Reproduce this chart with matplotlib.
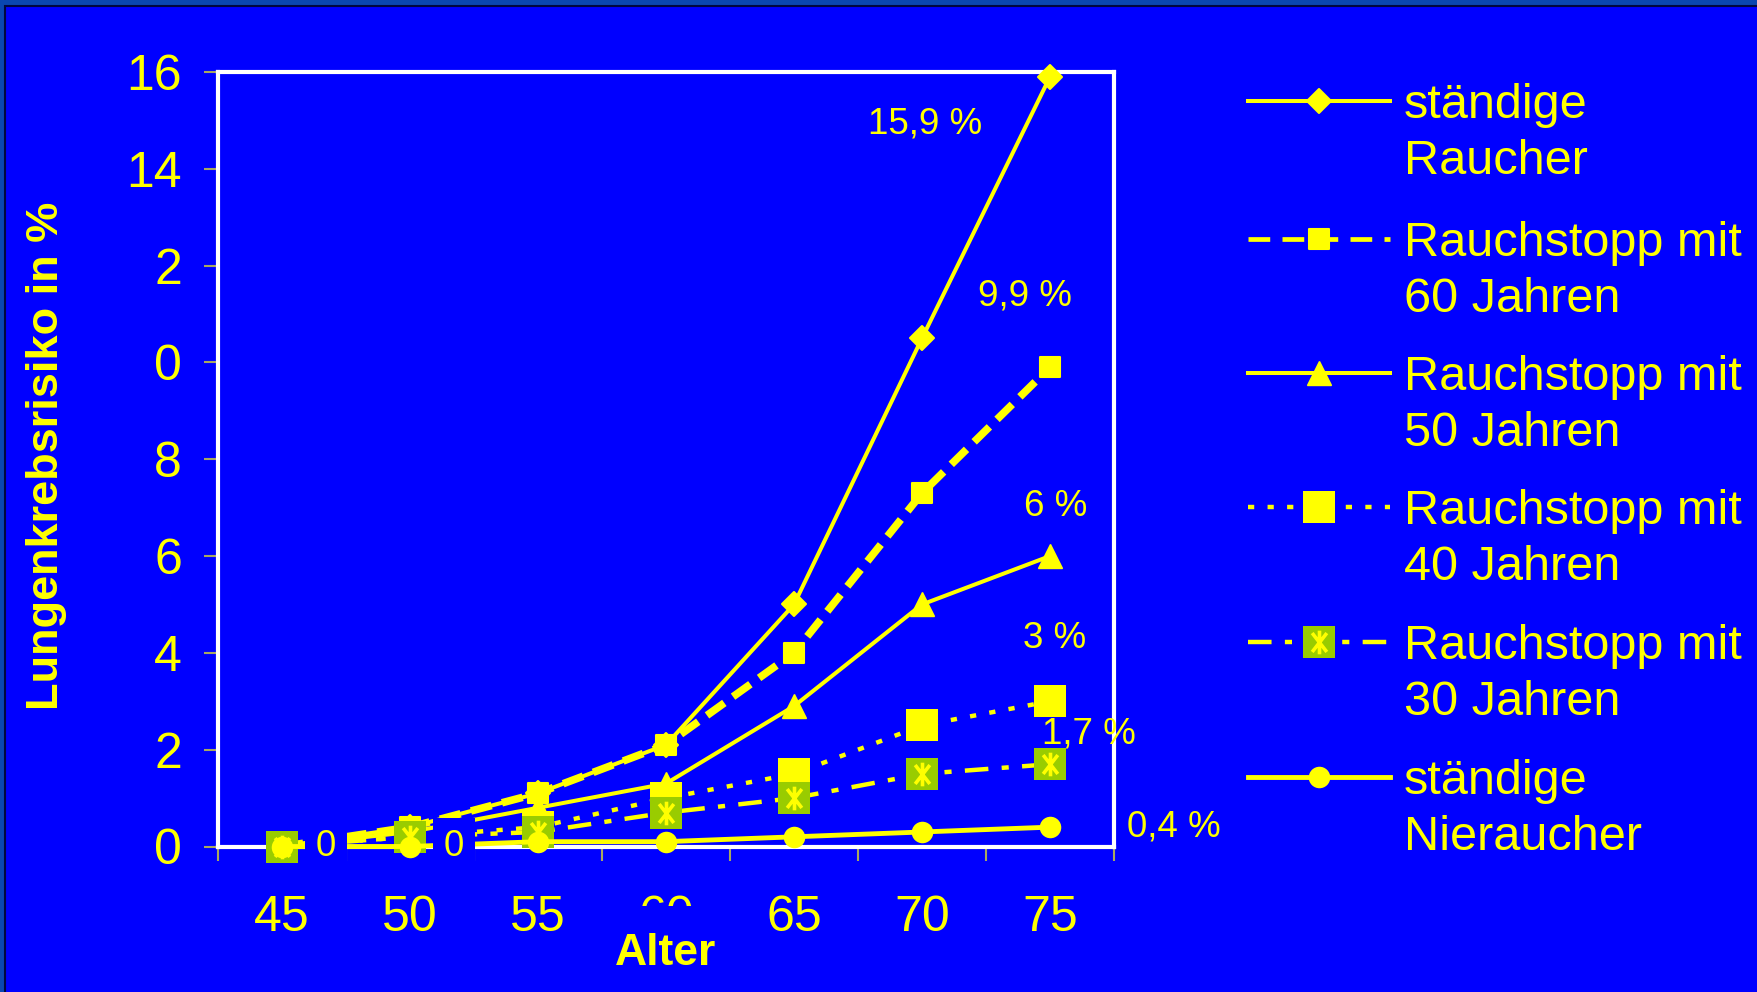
import matplotlib
matplotlib.use("Agg")
import matplotlib.pyplot as plt
from matplotlib.path import Path
from matplotlib.patches import Rectangle
from matplotlib.markers import MarkerStyle

# ---- data -------------------------------------------------------------
ages = ["45", "50", "55", "60", "65", "70", "75"]
ytick_values = [0, 2, 4, 6, 8, 10, 12, 14, 16]
ytick_labels = ["0", "2", "4", "6", "8", "0", "2", "14", "16"]

raucher = [0, 0.4, 1.1, 2.1, 5.0, 10.5, 15.9]
stopp_60 = [0, 0.4, 1.1, 2.1, 4.0, 7.3, 9.9]
stopp_50 = [0, 0.3, 0.8, 1.3, 2.9, 5.0, 6.0]
stopp_40 = [0, 0.2, 0.4, 1.0, 1.5, 2.5, 3.0]
stopp_30 = [0, 0.2, 0.3, 0.7, 1.0, 1.5, 1.7]
nieraucher = [0, 0, 0.1, 0.1, 0.2, 0.3, 0.4]

series_names = [
    ("ständige", "Raucher"),
    ("Rauchstopp mit", "60 Jahren"),
    ("Rauchstopp mit", "50 Jahren"),
    ("Rauchstopp mit", "40 Jahren"),
    ("Rauchstopp mit", "30 Jahren"),
    ("ständige", "Nieraucher"),
]
end_labels = ["15,9 %", "9,9 %", "6 %", "3 %", "1,7 %", "0,4 %"]
zero_labels = ["0", "0"]

# ---- style ------------------------------------------------------------
BLUE = "#0000FF"
YELLOW = "#FFFF00"
GREEN = "#99CC00"
TICKC = "#A8A860"

plt.rcParams["font.family"] = ["Liberation Sans", "DejaVu Sans"]

W, H = 1758, 992
fig = plt.figure(figsize=(W / 100, H / 100), dpi=100)
fig.patch.set_facecolor("#0A47B0")
fig.add_artist(Rectangle((5 / W, -0.02), 1.05, (H - 6) / H + 0.02,
                         transform=fig.transFigure, facecolor=BLUE,
                         edgecolor="#000840", lw=1.5, zorder=0))

ax = fig.add_axes([218 / W, 1 - 846.5 / H, (1114 - 218) / W, (846.5 - 72) / H])
ax.set_facecolor(BLUE)

asterisk = Path([(0, -1), (0, 1), (-0.62, -0.8), (0.62, 0.8), (-0.62, 0.8), (0.62, -0.8)],
                [Path.MOVETO, Path.LINETO] * 3)

styles = [
    dict(ls="-", lw=2.9, marker=MarkerStyle("D", joinstyle="round"), ms=12.5,
         mfc=YELLOW, mec=YELLOW, mew=1.5),
    dict(ls=(0, (2.8, 1.4)), lw=5.5, marker=MarkerStyle("s", joinstyle="round"), ms=14.5,
         mfc=YELLOW, mec=YELLOW, mew=1.5),
    dict(ls="-", lw=2.9, marker="^", ms=17, mfc=YELLOW, mec=YELLOW, mew=1),
    dict(ls=(0, (1.4, 3.0)), lw=3.2, marker="s", ms=23, mfc=YELLOW, mec=YELLOW, mew=0),
    dict(ls=(0, (5.3, 3.0, 1.6, 3.0)), lw=3.2, marker="s", ms=23, mfc=GREEN, mec=GREEN, mew=0),
    dict(ls="-", lw=3.5, marker="o", ms=15.5, mfc=YELLOW, mec=YELLOW, mew=0),
]
star_style = dict(ls="none", marker=asterisk, ms=17, mec=YELLOW, mfc="none", mew=2.6)

all_series = [raucher, stopp_60, stopp_50, stopp_40, stopp_30, nieraucher]
x = list(range(len(ages)))

for i, (vals, st) in enumerate(zip(all_series, styles)):
    ax.plot(x, vals, color=YELLOW, zorder=3 + i, clip_on=False, **st)
    if i == 4:
        ax.plot(x, vals, zorder=3 + i + 0.5, clip_on=False, **star_style)

# value labels at the end of each curve
end_offsets = [(-90, -34), (-18, 51), (4, 36), (3, 45), (28, 22), (89, 0)]
for vals, lab, off in zip(all_series, end_labels, end_offsets):
    ax.annotate(lab, xy=(x[-1], vals[-1]), xytext=off, textcoords="offset points",
                ha="center", va="center", fontsize=26.5, color=YELLOW,
                annotation_clip=False, zorder=15)

# "0" labels at the start of the non-smoker curve
for i, lab in enumerate(zero_labels):
    ax.annotate(lab, xy=(x[i], nieraucher[i]), xytext=(31.5, 0), textcoords="offset points",
                ha="center", va="center", fontsize=26.5, color=YELLOW,
                bbox=dict(boxstyle="square,pad=0.3", fc=BLUE, ec="none"),
                annotation_clip=False, zorder=20)

# axes
ax.set_xlim(-0.5, 6.5)
ax.set_ylim(0, 16)
ax.set_xticks(x)
ax.set_xticklabels(ages)
ax.set_xticks([-0.5, 0.5, 1.5, 2.5, 3.5, 4.5, 5.5, 6.5], minor=True)
ax.tick_params(axis="x", which="major", length=0, pad=35, labelsize=36, labelcolor=YELLOW)
ax.tick_params(axis="x", which="minor", length=10, width=1.5, color=TICKC, direction="out")
ax.set_yticks(ytick_values)
ax.set_yticklabels(ytick_labels)
ax.tick_params(axis="y", length=10, width=1.5, color=TICKC, direction="out",
               pad=16, labelsize=36, labelcolor=YELLOW)
for s in ax.spines.values():
    s.set_color("white")
    s.set_linewidth(3)

# axis title box, which sits over the lower part of the middle tick label
ax.add_patch(Rectangle((600 / W, 1 - 978 / H), 128 / W, 72 / H,
                       transform=fig.transFigure, facecolor=BLUE, edgecolor="none",
                       zorder=19, clip_on=False))
ax.text(0.5, (846.5 - 965) / 774.5, "Alter", transform=ax.transAxes, ha="center",
        va="baseline", fontsize=32, fontweight="bold", color=YELLOW,
        zorder=20, clip_on=False)
fig.text(47 / W, 1 - 456 / H, "Lungenkrebsrisiko in %", rotation=90, ha="center",
         va="center", fontsize=32.5, fontweight="bold", color=YELLOW)

# legend drawn on a pixel-space overlay
lax = fig.add_axes([0, 0, 1, 1])
lax.set_xlim(0, W)
lax.set_ylim(H, 0)
lax.axis("off")

legend_y = [101, 239, 373, 507, 642, 777]
hx = [1248, 1319, 1390]
for i, (yy, st, (l1, l2)) in enumerate(zip(legend_y, styles, series_names)):
    st = dict(st)
    if i == 1:
        st["lw"] = 3.4
        st["ls"] = (0, (4.6, 2.6))
    lax.plot(hx, [yy] * 3, color=YELLOW, markevery=[1], **st)
    if i == 4:
        lax.plot([hx[1]], [yy], **star_style)
    lax.text(1404, yy + 17, l1, ha="left", va="baseline", fontsize=35, color=YELLOW)
    lax.text(1404, yy + 73, l2, ha="left", va="baseline", fontsize=35, color=YELLOW)

fig.savefig("out.png", dpi=100, facecolor=fig.get_facecolor())
